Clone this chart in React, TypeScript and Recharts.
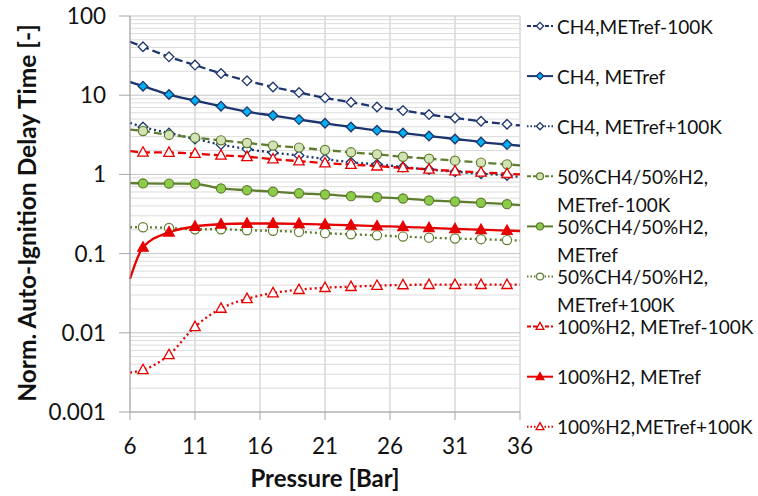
import React from "react";
import { LineChart, Line, XAxis, YAxis, CartesianGrid, ReferenceLine, Label } from "recharts";

document.body.style.margin = "0";

const FONT = "Lato, 'Open Sans', sans-serif";

const pressure = [6, 7, 9, 11, 13, 15, 17, 19, 21, 23, 25, 27, 29, 31, 33, 35, 36];
const xTicks = [6, 11, 16, 21, 26, 31, 36];
const yTicks = [0.001, 0.01, 0.1, 1, 10, 100];
const yTickLabels = ["0.001", "0.01", "0.1", "1", "10", "100"];
const minorTicks = [
  0.002, 0.003, 0.004, 0.005, 0.006, 0.007, 0.008, 0.009,
  0.02, 0.03, 0.04, 0.05, 0.06, 0.07, 0.08, 0.09,
  0.2, 0.3, 0.4, 0.5, 0.6, 0.7, 0.8, 0.9,
  2, 3, 4, 5, 6, 7, 8, 9,
  20, 30, 40, 50, 60, 70, 80, 90,
];

const ch4Minus = [47.3, 40.9, 30.5, 24, 18.8, 15.2, 12.7, 10.8, 9.25, 8.15, 7.1, 6.4, 5.7, 5.16, 4.69, 4.3, 4.15];
const ch4Ref = [14.7, 13.0, 10.2, 8.55, 7.26, 6.2, 5.53, 4.92, 4.42, 3.97, 3.6, 3.33, 3.05, 2.8, 2.56, 2.38, 2.3];
const ch4Plus = [4.47, 3.97, 3.33, 2.8, 2.38, 2.09, 1.88, 1.73, 1.56, 1.42, 1.34, 1.24, 1.15, 1.08, 1.02, 0.97, 0.93];
const mixMinus = [3.67, 3.53, 3.15, 2.91, 2.69, 2.49, 2.31, 2.18, 2.03, 1.9, 1.79, 1.67, 1.58, 1.49, 1.41, 1.34, 1.3];
const mixRef = [0.776, 0.77, 0.765, 0.76, 0.665, 0.632, 0.605, 0.577, 0.558, 0.531, 0.514, 0.497, 0.469, 0.455, 0.438, 0.421, 0.41];
const mixPlus = [0.215, 0.215, 0.211, 0.203, 0.203, 0.197, 0.194, 0.188, 0.181, 0.175, 0.17, 0.164, 0.159, 0.155, 0.152, 0.148, 0.146];
const h2Minus = [1.97, 1.9, 1.89, 1.83, 1.74, 1.67, 1.56, 1.47, 1.39, 1.33, 1.27, 1.21, 1.16, 1.1, 1.06, 1.02, 1.0];
const h2Ref = [0.048, 0.12, 0.186, 0.22, 0.235, 0.24, 0.24, 0.238, 0.233, 0.228, 0.222, 0.218, 0.211, 0.205, 0.2, 0.195, 0.193];
const h2Plus = [0.00315, 0.0034, 0.00527, 0.0119, 0.0203, 0.0269, 0.0318, 0.035, 0.0371, 0.0382, 0.0394, 0.0402, 0.0405, 0.0405, 0.0405, 0.0405, 0.0405];

const NAVY = "#1C356E";
const OLIVE = "#5E7D2E";
const RED = "#E60000";

type Shape = "diamond" | "circle" | "triangle";
type Series = {
  key: string;
  values: number[];
  legend: string[];
  color: string;
  dash?: string;
  shape: Shape;
  fill: string;
};

const series: Series[] = [
  { key: "ch4Minus", values: ch4Minus, legend: ["CH4,METref-100K"], color: NAVY, dash: "8 4", shape: "diamond", fill: "#FFFFFF" },
  { key: "ch4Ref", values: ch4Ref, legend: ["CH4, METref"], color: NAVY, shape: "diamond", fill: "#00B0F0" },
  { key: "ch4Plus", values: ch4Plus, legend: ["CH4, METref+100K"], color: NAVY, dash: "2 3", shape: "diamond", fill: "#FFFFFF" },
  { key: "mixMinus", values: mixMinus, legend: ["50%CH4/50%H2,", "METref-100K"], color: OLIVE, dash: "8 4", shape: "circle", fill: "#D3E3B6" },
  { key: "mixRef", values: mixRef, legend: ["50%CH4/50%H2,", "METref"], color: OLIVE, shape: "circle", fill: "#8DCB4A" },
  { key: "mixPlus", values: mixPlus, legend: ["50%CH4/50%H2,", "METref+100K"], color: OLIVE, dash: "2 3", shape: "circle", fill: "#FFFFFF" },
  { key: "h2Minus", values: h2Minus, legend: ["100%H2, METref-100K"], color: RED, dash: "8 4", shape: "triangle", fill: "#FFFFFF" },
  { key: "h2Ref", values: h2Ref, legend: ["100%H2, METref"], color: RED, shape: "triangle", fill: RED },
  { key: "h2Plus", values: h2Plus, legend: ["100%H2,METref+100K"], color: RED, dash: "2 3", shape: "triangle", fill: "#FFFFFF" },
];

const data = pressure.map((p, i) => {
  const row: Record<string, number> = { p };
  series.forEach((s) => {
    row[s.key] = s.values[i];
  });
  return row;
});

function Marker({ shape, cx, cy, fill, stroke, scale = 1 }: { shape: Shape; cx: number; cy: number; fill: string; stroke: string; scale?: number }) {
  if (shape === "diamond") {
    const r = 4.8 * scale;
    return <path d={`M${cx},${cy - r}L${cx + r},${cy}L${cx},${cy + r}L${cx - r},${cy}Z`} fill={fill} stroke={stroke} strokeWidth={1.3} />;
  }
  if (shape === "circle") {
    return <circle cx={cx} cy={cy} r={4.6 * scale} fill={fill} stroke={stroke} strokeWidth={1.2} />;
  }
  const w = 5.2 * scale;
  return <path d={`M${cx},${cy - 5.6 * scale}L${cx + w},${cy + 3.8 * scale}L${cx - w},${cy + 3.8 * scale}Z`} fill={fill} stroke={stroke} strokeWidth={1.3} />;
}

const makeDot = (s: Series) => (props: any) => {
  const { cx, cy, index } = props;
  const key = `${s.key}-${index}`;
  if (index === 0 || index === pressure.length - 1 || cx == null || cy == null) return <g key={key} />;
  return (
    <g key={key}>
      <Marker shape={s.shape} cx={cx} cy={cy} fill={s.fill} stroke={s.color} />
    </g>
  );
};

function LegendOverlay() {
  const top = 26;
  const step = 50.1;
  return (
    <svg width={758} height={496} style={{ position: "absolute", left: 0, top: 0, pointerEvents: "none" }}>
      {series.map((s, i) => {
        const y = top + i * step;
        return (
          <g key={s.key}>
            <line x1={527} x2={553} y1={y} y2={y} stroke={s.color} strokeWidth={2} strokeDasharray={s.dash ? (s.dash === "8 4" ? "4 2" : "1.5 2") : undefined} />
            <Marker shape={s.shape} cx={540} cy={y} fill={s.fill} stroke={s.color} scale={0.75} />
            {s.legend.map((line, j) => (
              <text key={j} x={557} y={y + j * 28} dominantBaseline="central" fontFamily={FONT} fontSize={19} fill="#111">
                {line}
              </text>
            ))}
          </g>
        );
      })}
    </svg>
  );
}

export default function App() {
  return (
    <div style={{ position: "relative", width: 758, height: 496, background: "#fff" }}>
      <LineChart width={758} height={496} data={data} margin={{ top: 16, right: 238, bottom: 34, left: 0 }}>
        {minorTicks.map((v) => (
          <ReferenceLine key={v} y={v} stroke="#DCDCDC" strokeWidth={1} />
        ))}
        <CartesianGrid stroke="#C4C4C4" strokeWidth={1} />
        <XAxis
          dataKey="p"
          type="number"
          domain={[6, 36]}
          ticks={xTicks}
          interval={0}
          height={50}
          tickSize={8}
          tickMargin={18}
          stroke="#A6A6A6"
          tick={{ fill: "#111", fontSize: 22.5, fontFamily: FONT }}
        >
          <Label
            content={() => (
              <text x={325} y={487} textAnchor="middle" fontFamily={FONT} fontWeight={700} fontSize={24} fill="#111">
                Pressure [Bar]
              </text>
            )}
          />
        </XAxis>
        <YAxis
          scale="log"
          type="number"
          domain={[0.001, 100]}
          ticks={yTicks}
          interval={0}
          allowDataOverflow
          width={130}
          tickSize={11}
          tickMargin={13}
          stroke="#A6A6A6"
          tickFormatter={(v: number) => yTickLabels[yTicks.indexOf(v)] ?? String(v)}
          tick={{ fill: "#111", fontSize: 22.5, fontFamily: FONT }}
        >
          <Label
            content={() => (
              <text x={26} y={213} transform="rotate(-90 26 213)" textAnchor="middle" dominantBaseline="central" fontFamily={FONT} fontWeight={700} fontSize={24.5} fill="#111">
                Norm. Auto-Ignition Delay Time [-]
              </text>
            )}
          />
        </YAxis>
        {series.map((s) => (
          <Line
            key={s.key}
            dataKey={s.key}
            type="monotone"
            stroke={s.color}
            strokeWidth={2.3}
            strokeDasharray={s.dash}
            dot={makeDot(s)}
            activeDot={false}
            isAnimationActive={false}
          />
        ))}
      </LineChart>
      <LegendOverlay />
    </div>
  );
}
